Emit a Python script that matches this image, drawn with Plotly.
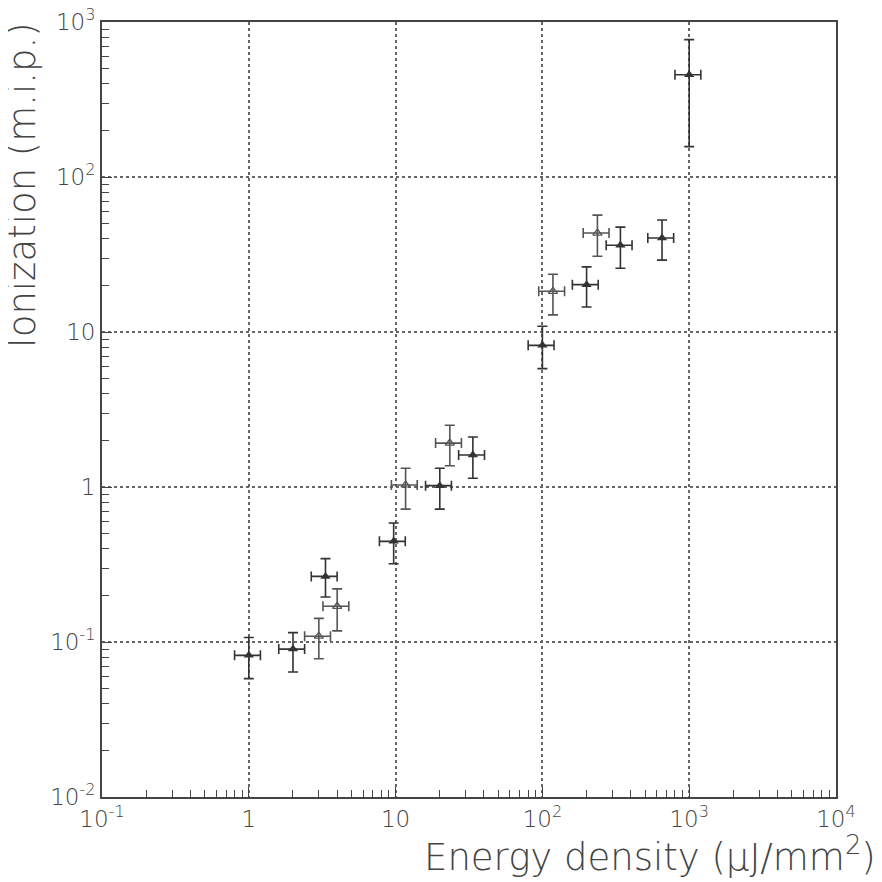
import plotly.graph_objects as go

# Filled-triangle measurements
x_filled = [1.0, 2.0, 3.33, 9.7, 20.0, 33.6, 100.0, 200.0, 340.0, 653.0, 1000.0]
y_filled = [0.082, 0.090, 0.265, 0.446, 1.02, 1.61, 8.2, 20.2, 36.3, 40.4, 457.0]
yerr_plus_filled = [0.025, 0.025, 0.08, 0.14, 0.30, 0.49, 2.7, 6.1, 11.2, 12.4, 313.0]
yerr_minus_filled = [0.024, 0.026, 0.07, 0.126, 0.30, 0.47, 2.4, 5.7, 10.5, 11.3, 300.0]

# Open-marker measurements
x_open = [3.0, 4.0, 11.7, 23.4, 118.0, 237.0]
y_open = [0.109, 0.17, 1.03, 1.92, 18.3, 43.5]
yerr_plus_open = [0.033, 0.05, 0.29, 0.58, 5.3, 13.3]
yerr_minus_open = [0.031, 0.052, 0.31, 0.55, 5.4, 12.7]

x_err_percent = 20

x_tickvals = [0.1, 1, 10, 100, 1000, 10000]
x_ticktext = ["10<sup>-1</sup>", "1", "10", "10<sup>2</sup>", "10<sup>3</sup>", "10<sup>4</sup>"]
y_tickvals = [0.01, 0.1, 1, 10, 100, 1000]
y_ticktext = ["10<sup>-2</sup>", "10<sup>-1</sup>", "1", "10", "10<sup>2</sup>", "10<sup>3</sup>"]

ink = "#333333"
font_family = "DejaVu Sans, Liberation Sans, sans-serif"

fig = go.Figure()
fig.add_trace(go.Scatter(
    x=x_filled, y=y_filled, mode="markers",
    marker=dict(symbol="triangle-up", size=9, color=ink),
    error_x=dict(type="percent", value=x_err_percent, color=ink, thickness=1.6, width=5),
    error_y=dict(type="data", array=yerr_plus_filled, arrayminus=yerr_minus_filled,
                 symmetric=False, color=ink, thickness=1.6, width=5),
    showlegend=False,
))
fig.add_trace(go.Scatter(
    x=x_open, y=y_open, mode="markers",
    marker=dict(symbol="triangle-up-open", size=8, color="#555555", line=dict(width=1.2)),
    error_x=dict(type="percent", value=x_err_percent, color="#555555", thickness=1.6, width=5),
    error_y=dict(type="data", array=yerr_plus_open, arrayminus=yerr_minus_open,
                 symmetric=False, color="#555555", thickness=1.6, width=5),
    showlegend=False,
))

axis_common = dict(
    type="log", showline=True, linecolor="#444444", linewidth=1.8, mirror=True,
    showgrid=True, gridcolor="#666666", griddash="dot", gridwidth=1.5,
    ticks="inside", ticklen=10, tickcolor="#444444", tickwidth=1.2,
    minor=dict(ticks="inside", ticklen=7, tickcolor="#444444", tickwidth=1.2,
               dtick="D1", showgrid=False),
    tickfont=dict(family=font_family, size=23, color="#444444", weight=300),
    ticklabeloverflow="allow",
    zeroline=False, automargin=False,
)
fig.update_xaxes(range=[-1, 4], tickvals=x_tickvals, ticktext=x_ticktext, **axis_common)
fig.update_yaxes(range=[-2, 3], tickvals=y_tickvals, ticktext=y_ticktext, **axis_common)

fig.add_annotation(
    text="Ionization (m.i.p.)", xref="paper", yref="paper", x=-0.0763, y=1.003,
    xanchor="right", yanchor="top", textangle=-90, showarrow=False,
    font=dict(family=font_family, size=37, color="#444444", weight=300),
)
fig.add_annotation(
    text="Energy density (μJ/mm<sup>2</sup>)", xref="paper", yref="paper", x=1.057, y=-0.108,
    xanchor="right", yanchor="bottom", showarrow=False,
    font=dict(family=font_family, size=37, color="#444444", weight=300),
)

# The page body adds an 8px offset; margins compensate so the plot frame sits
# at x 102..836, y 22..797 in the window.
fig.update_layout(
    width=882, height=882,
    margin=dict(l=94, r=54, t=14, b=93),
    paper_bgcolor="white", plot_bgcolor="white",
)

fig.write_html("out.html")
